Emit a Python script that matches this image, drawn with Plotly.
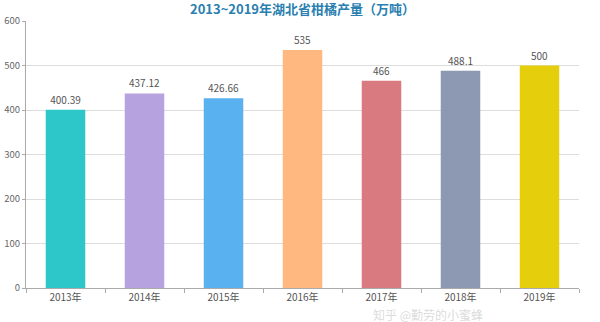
import plotly.graph_objects as go

years = ["2013年", "2014年", "2015年", "2016年", "2017年", "2018年", "2019年"]
output = [400.39, 437.12, 426.66, 535, 466, 488.1, 500]
value_labels = ["400.39", "437.12", "426.66", "535", "466", "488.1", "500"]
bar_colors = ["#2ec7c9", "#b6a2de", "#5ab1ef", "#ffb980", "#d87a80", "#8d98b3", "#e5cf0d"]
y_ticks = [0, 100, 200, 300, 400, 500, 600]

font_family = "Noto Sans CJK SC, Noto Sans, sans-serif"

fig = go.Figure(
    go.Bar(
        x=years,
        y=output,
        marker=dict(color=bar_colors, line=dict(width=0)),
        text=value_labels,
        textposition="outside",
        textfont=dict(size=10, color="#555555", family=font_family),
        cliponaxis=False,
        width=0.5,
    )
)

fig.update_layout(
    width=600,
    height=322,
    margin=dict(l=26, r=21, t=21, b=34, autoexpand=False),
    paper_bgcolor="white",
    plot_bgcolor="white",
    showlegend=False,
    font=dict(family=font_family, size=10, color="#666666"),
    annotations=[
        dict(
            text="<b>2013~2019年湖北省柑橘产量（万吨）</b>",
            x=0.5, xref="paper", xanchor="center",
            y=1.0, yref="paper", yanchor="middle", yshift=13,
            showarrow=False,
            font=dict(size=13, color="#2a7fb0", family=font_family),
        ),
        dict(
            text="知乎 @勤劳的小蜜蜂",
            x=0.625, xref="paper", xanchor="left",
            y=0, yref="paper", yanchor="top", yshift=-17,
            showarrow=False, borderpad=0,
            font=dict(size=12, color="rgba(215,215,215,0.9)", family=font_family),
        ),
    ],
)

fig.update_xaxes(
    automargin=False,
    showline=True, linecolor="#aaaaaa", linewidth=1,
    ticks="outside", ticklen=4, tickcolor="#aaaaaa",
    tickson="boundaries",
    tickfont=dict(size=10, color="#555555"),
    showgrid=False,
)
fig.update_yaxes(
    automargin=False,
    range=[0, 600], tickvals=y_ticks,
    showline=True, linecolor="#aaaaaa", linewidth=1,
    ticks="outside", ticklen=3, tickcolor="#aaaaaa",
    gridcolor="#dddddd", gridwidth=1,
    tickfont=dict(size=9.5, color="#666666"),
    zeroline=False,
)

fig.write_html("out.html")
